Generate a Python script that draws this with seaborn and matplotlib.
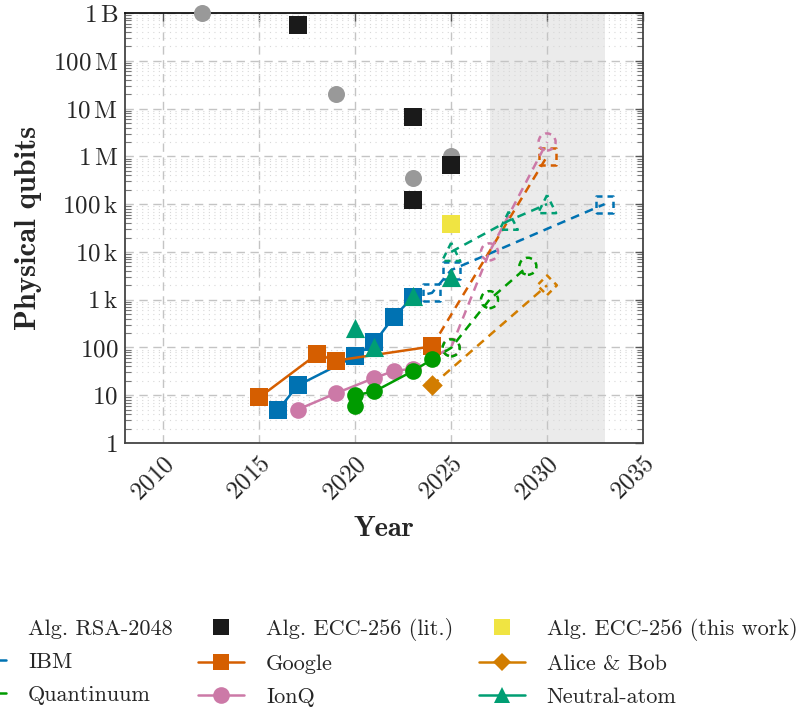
import numpy as np
import pandas as pd
import seaborn as sns
import matplotlib.pyplot as plt
from matplotlib.lines import Line2D
from matplotlib.ticker import FixedLocator, LogLocator, NullFormatter

# Dados
rsa_year = [2012, 2019, 2023, 2025]
rsa_qubits = [1e9, 2e7, 3.5e5, 1e6]

ecc_lit_year = [2017, 2023, 2023, 2025]
ecc_lit_qubits = [5.6e8, 6.6e6, 1.2e5, 6.6e5]

ecc_this_year = [2025]
ecc_this_qubits = [3.8e4]

ibm_year = [2016, 2017, 2020, 2021, 2022, 2023]
ibm_qubits = [5, 16, 65, 127, 433, 1121]
ibm_proj_year = [2023, 2024, 2025, 2033]
ibm_proj_qubits = [1121, 1386, 4158, 1e5]

google_year = [2015, 2018, 2019, 2024]
google_qubits = [9, 72, 53, 105]
google_proj_year = [2024, 2030]
google_proj_qubits = [105, 1e6]

ionq_year = [2017, 2019, 2021, 2022, 2023]
ionq_qubits = [5, 11, 23, 32, 36]
ionq_proj_year = [2023, 2025, 2027, 2030]
ionq_proj_qubits = [36, 100, 1e4, 2e6]

quant_year = [2020, 2020, 2021, 2023, 2024]
quant_qubits = [6, 10, 12, 32, 56]
quant_proj_year = [2024, 2025, 2027, 2029]
quant_proj_qubits = [56, 98, 1000, 5000]

ab_year = [2024]
ab_qubits = [16]
ab_proj_year = [2024, 2030]
ab_proj_qubits = [16, 2000]

neutral_year = [2020, 2021, 2023, 2025]
neutral_qubits = [256, 100, 1180, 3000]
neutral_proj_year = [2025, 2028, 2030]
neutral_proj_qubits = [1e4, 4.5e4, 1e5]

ytick_vals = [1, 10, 100, 1e3, 1e4, 1e5, 1e6, 1e7, 1e8, 1e9]
ytick_labels = ['1', '10', '100', r'1\,\mathrm{k}', r'10\,\mathrm{k}', r'100\,\mathrm{k}',
                r'1\,\mathrm{M}', r'10\,\mathrm{M}', r'100\,\mathrm{M}', r'1\,\mathrm{B}']
xtick_vals = [2010, 2015, 2020, 2025, 2030, 2035]

# Cores
c_rsa = '#999999'
c_ecc = '#1a1a1a'
c_this = '#F0E442'
c_ibm = '#0072B2'
c_google = '#D55E00'
c_ionq = '#CC79A7'
c_quant = '#009B00'
c_ab = '#D27D00'
c_neutral = '#009E73'

sns.set_theme(style='white')
plt.rcParams['font.family'] = 'serif'
plt.rcParams['font.serif'] = ['cmr10', 'DejaVu Serif']
plt.rcParams['mathtext.fontset'] = 'cm'
plt.rcParams['axes.formatter.use_mathtext'] = True

fig = plt.figure(figsize=(8.01, 7.11), dpi=100)
ax = fig.add_axes([125 / 801, 268 / 711, 518 / 801, 430 / 711])

ax.axvspan(2027, 2033, color='#ebebeb', zorder=0.1, lw=0)

# Séries medidas (linha sólida)
series = [
    (ibm_year, ibm_qubits, c_ibm, 's', 13),
    (google_year, google_qubits, c_google, 's', 13),
    (ionq_year, ionq_qubits, c_ionq, 'o', 12),
    (quant_year, quant_qubits, c_quant, 'o', 12),
]
for xs, ys, c, m, ms in series:
    sns.lineplot(x=xs, y=ys, ax=ax, color=c, marker=m, markersize=ms,
                 markeredgewidth=0, lw=1.8, estimator=None, sort=False, zorder=4)

sns.scatterplot(x=ab_year, y=ab_qubits, ax=ax, color=c_ab, marker='D', s=110,
                linewidth=0, zorder=4)
sns.scatterplot(x=neutral_year, y=neutral_qubits, ax=ax, color=c_neutral, marker='^',
                s=190, linewidth=0, zorder=5)

# Projeções (tracejado)
proj = [
    (ibm_proj_year, ibm_proj_qubits, c_ibm, 's', 1),
    (google_proj_year, google_proj_qubits, c_google, 's', 1),
    (ionq_proj_year, ionq_proj_qubits, c_ionq, 'o', 1),
    (quant_proj_year, quant_proj_qubits, c_quant, 'o', 1),
    (ab_proj_year, ab_proj_qubits, c_ab, 'D', 1),
    (neutral_proj_year, neutral_proj_qubits, c_neutral, '^', 0),
]
for xs, ys, c, m, start in proj:
    sns.lineplot(x=xs, y=ys, ax=ax, color=c, lw=1.8, estimator=None, sort=False,
                 zorder=3)
    ax.lines[-1].set_dashes((3.5, 2.5))
    size = {'s': 150, 'o': 150, 'D': 100, '^': 170}[m]
    ax.scatter(xs[start:], ys[start:], marker=m, s=size, facecolors='none',
               edgecolors=c, linewidths=1.8, linestyle=(0, (2.5, 2)), zorder=3)

# Estimativas de algoritmos
sns.scatterplot(x=rsa_year, y=rsa_qubits, ax=ax, color=c_rsa, marker='o', s=150,
                linewidth=0, zorder=6, clip_on=False)
sns.scatterplot(x=ecc_lit_year, y=ecc_lit_qubits, ax=ax, color=c_ecc, marker='s',
                s=150, linewidth=0, zorder=7, clip_on=False)
sns.scatterplot(x=ecc_this_year, y=ecc_this_qubits, ax=ax, color=c_this, marker='s',
                s=150, linewidth=0, zorder=7)

ax.set_yscale('log')
ax.set_xlim(2008, 2035)
ax.set_ylim(1, 1e9)
ax.yaxis.set_major_locator(FixedLocator(ytick_vals))
ax.set_yticklabels([f'${t}$' for t in ytick_labels], fontsize=18)
ax.yaxis.set_minor_locator(LogLocator(base=10, subs=np.arange(2, 10), numticks=20))
ax.yaxis.set_minor_formatter(NullFormatter())
ax.set_xticks(xtick_vals)
ax.set_xticklabels([f'${t}$' for t in xtick_vals], fontsize=18, rotation=45,
                   ha='right', rotation_mode='anchor')

ax.tick_params(axis='both', which='major', direction='in', length=6, width=1,
               color='#555555', top=True, right=True, pad=5)
ax.tick_params(axis='x', which='major', pad=7)
ax.tick_params(axis='y', which='minor', direction='in', length=4, width=0.8,
               color='#777777', left=True, right=True)

ax.set_axisbelow(True)
ax.grid(True, which='major', axis='both', color='#c4c4c4', lw=1.0, dashes=(6, 4))
ax.grid(True, which='minor', axis='y', color='#d8d8d8', lw=0.8, dashes=(1, 4))

for s in ax.spines.values():
    s.set_color('#444444')
    s.set_linewidth(1.3)
ax.spines['top'].set_color('#111111')

ax.set_xlabel('Year', fontfamily='cmb10', fontsize=20.5, labelpad=8)
ax.set_ylabel('Physical qubits', fontfamily='cmb10', fontsize=22, labelpad=7.5)

# Legenda (3 colunas, ordem por colunas)
def h(c, m, ms, line=True):
    return Line2D([], [], color=c, marker=m, markersize=ms, markeredgewidth=0,
                  lw=1.8 if line else 0)

handles = [
    h(c_rsa, 'o', 12, False), h(c_ibm, 's', 12), h(c_quant, 'o', 12),
    h(c_ecc, 's', 11, False), h(c_google, 's', 12), h(c_ionq, 'o', 12),
    h(c_this, 's', 11, False), h(c_ab, 'D', 9), h(c_neutral, '^', 12),
]
labels = [
    'Alg. RSA-2048', 'IBM', 'Quantinuum',
    'Alg. ECC-256 (lit.)', 'Google', 'IonQ',
    'Alg. ECC-256 (this work)', 'Alice & Bob', 'Neutral-atom',
]
ax.legend(handles, labels, ncol=3, loc='upper center', bbox_to_anchor=(0.49, -0.38),
          frameon=False, fontsize=16, handlelength=2.05, handletextpad=1.0,
          columnspacing=1.15, labelspacing=0.62, borderpad=0)

fig.savefig('out.png', dpi=100)
